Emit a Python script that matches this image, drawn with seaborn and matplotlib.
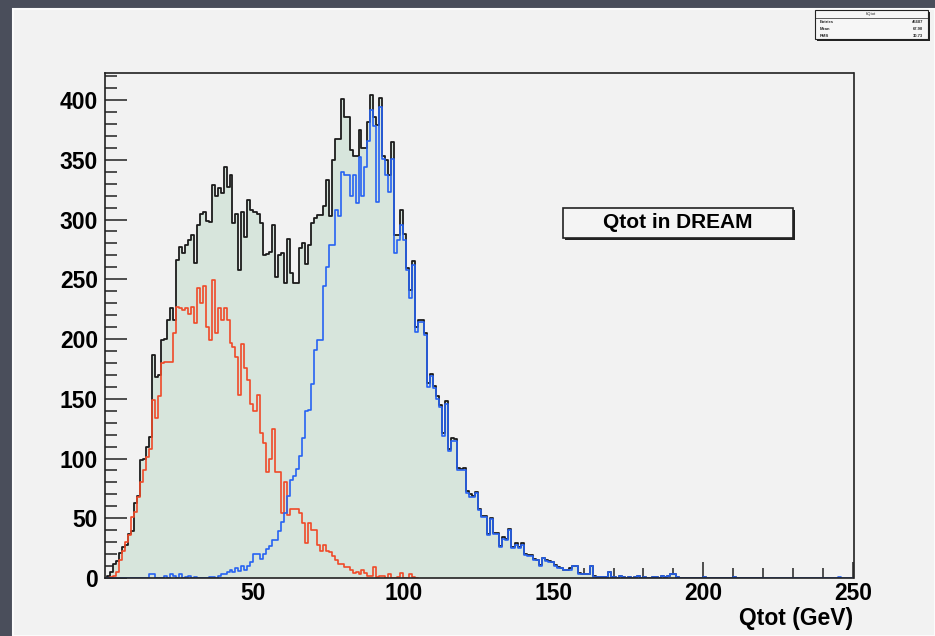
import numpy as np
import pandas as pd
import matplotlib
matplotlib.use('Agg')
import matplotlib.pyplot as plt
from matplotlib.patches import Rectangle
from matplotlib.ticker import MultipleLocator, FixedLocator
import seaborn as sns

# counts per 1 GeV bin, starting at 0 GeV
total_counts = [0, 2, 5, 12, 14, 21, 26, 28, 37, 39,
                63, 69, 99, 100, 110, 118, 187, 168, 170, 199,
                200, 216, 226, 216, 266, 277, 272, 279, 283, 287,
                264, 295, 305, 306, 299, 298, 329, 320, 326, 322,
                344, 327, 337, 297, 305, 258, 306, 285, 316, 308,
                306, 305, 297, 270, 271, 273, 295, 252, 270, 272,
                247, 284, 255, 247, 247, 276, 280, 263, 279, 297,
                301, 304, 304, 311, 333, 303, 350, 367, 367, 401,
                386, 386, 358, 353, 353, 375, 360, 360, 382, 404,
                386, 379, 402, 353, 350, 337, 365, 287, 287, 308,
                288, 259, 241, 265, 210, 216, 216, 205, 163, 171,
                161, 152, 145, 121, 148, 108, 117, 116, 92, 91,
                92, 73, 70, 69, 72, 58, 52, 52, 37, 50,
                38, 38, 27, 34, 33, 41, 26, 29, 26, 29,
                20, 19, 19, 16, 15, 11, 17, 15, 14, 13,
                11, 9, 8, 7, 7, 8, 10, 10, 4, 3,
                3, 3, 10, 2, 1, 1, 1, 1, 5, 1,
                1, 0, 2, 1, 0, 1, 0, 1, 2, 0,
                1, 0, 0, 1, 1, 0, 2, 1, 2, 3,
                3, 1, 0, 0, 0, 0, 0, 0, 0, 0,
                1, 0, 0, 0, 0, 0, 0, 0, 0, 0,
                1, 0, 0, 0, 0, 0, 0, 0, 0, 0]

red_counts = [0, 0, 1, 2, 5, 15, 23, 30, 36, 51,
              55, 68, 80, 90, 101, 108, 149, 134, 152, 180,
              181, 181, 181, 205, 227, 226, 224, 226, 221, 227,
              213, 243, 230, 244, 210, 199, 249, 205, 226, 216,
              226, 216, 197, 193, 185, 153, 196, 176, 166, 146,
              140, 153, 121, 113, 89, 100, 125, 89, 89, 54,
              80, 53, 58, 58, 58, 54, 46, 29, 46, 40,
              40, 28, 23, 28, 23, 22, 18, 15, 12, 12,
              9, 9, 7, 4, 5, 3, 7, 4, 2, 2,
              9, 1, 2, 2, 0, 3, 0, 0, 1, 4,
              0, 0, 3, 1, 0]

blue_counts = [0, 0, 0, 0, 0, 0, 0, 0, 0, 0,
               0, 0, 0, 0, 0, 3, 3, 0, 0, 0,
               2, 0, 3, 2, 0, 3, 0, 1, 2, 0,
               1, 0, 0, 0, 0, 1, 1, 0, 2, 3,
               3, 5, 7, 5, 8, 6, 10, 7, 10, 13,
               20, 20, 16, 20, 24, 27, 32, 32, 39, 47,
               54, 69, 82, 85, 91, 102, 117, 140, 141, 162,
               191, 199, 199, 244, 260, 279, 279, 308, 303, 340,
               337, 337, 320, 337, 314, 352, 320, 344, 366, 392,
               378, 315, 394, 351, 337, 323, 351, 272, 283, 295,
               283, 258, 234, 262, 206, 214, 214, 203, 160, 169,
               159, 150, 143, 119, 146, 106, 115, 115, 90, 90,
               90, 71, 68, 68, 71, 57, 51, 51, 36, 49,
               37, 37, 26, 33, 32, 40, 25, 28, 25, 28,
               19, 18, 18, 15, 15, 10, 17, 14, 13, 13,
               10, 8, 8, 7, 7, 7, 10, 10, 3, 3,
               3, 3, 10, 1, 1, 1, 1, 1, 5, 1,
               1, 0, 2, 1, 0, 1, 0, 1, 2, 0,
               1, 0, 0, 1, 1, 0, 2, 1, 2, 3,
               3, 1, 0, 0, 0, 0, 0, 0, 0, 0,
               1, 0, 0, 0, 0, 0, 0, 0, 0, 0,
               1, 0, 0, 0, 0, 0, 0, 0, 0, 0,
               0, 0, 0, 0, 0, 0, 0, 0, 0, 0,
               0, 0, 0, 0, 0, 0, 0, 0, 0, 0,
               0, 0, 0, 0, 0, 1, 0, 0, 0, 0]

x_major = [50, 100, 150, 200, 250]
stats_rows = [('Entries', '45687'), ('Mean', '67.90'), ('RMS', '30.73')]
title_text = 'Qtot in DREAM'

sns.set_style('ticks')
plt.rcParams['font.family'] = ['Liberation Sans', 'DejaVu Sans']

W, H = 935, 636
fig = plt.figure(figsize=(W/100, H/100), dpi=100, facecolor='#4a4e5b')
# light canvas panel, behind the axes
fig.patches.append(Rectangle((13/W, 0), 1-13/W, 1-9/H, transform=fig.transFigure,
                             facecolor='#f2f2f2', edgecolor='#fbfbfb', lw=1.5, zorder=-5))

ax = fig.add_axes([105/W, 1-578/H, 748.5/W, 505/H])
ax.set_facecolor('#f2f2f2')
ax.set_zorder(1)


def hist(counts, **kw):
    df = pd.DataFrame({'qtot': np.arange(len(counts)) + 0.5, 'n': counts})
    sns.histplot(data=df, x='qtot', weights='n', binwidth=1, binrange=(0, len(counts)),
                 element='step', ax=ax, **kw)


hist(total_counts, fill=True, color='#d7e5dc', alpha=1, linewidth=0)
hist(total_counts, fill=False, color='#1c1c1c', linewidth=1.3)
hist(red_counts, fill=False, color='#f04a28', linewidth=1.2)
hist(blue_counts, fill=False, color='#2763f2', linewidth=1.2)

ax.set_xlim(0.5, 250)
ax.set_ylim(0, 422.6)
ax.xaxis.set_major_locator(FixedLocator(x_major))
ax.xaxis.set_minor_locator(MultipleLocator(10))
ax.yaxis.set_major_locator(MultipleLocator(50))
ax.yaxis.set_minor_locator(MultipleLocator(10))
ax.tick_params(axis='y', which='major', direction='in', length=16, width=1.1, color='#222',
               pad=5, labelcolor='black')
ax.tick_params(axis='y', which='minor', direction='in', length=8.5, width=1.1, color='#222')
ax.tick_params(axis='x', which='major', direction='in', length=11.5, width=1.1, color='#222',
               pad=3, labelcolor='black')
ax.tick_params(axis='x', which='minor', direction='in', length=7, width=1.1, color='#222')
for lab in ax.get_xticklabels() + ax.get_yticklabels():
    lab.set_fontsize(16.5)
    lab.set_fontweight('bold')
for sp in ax.spines.values():
    sp.set_visible(True)
    sp.set_linewidth(1.2)
    sp.set_color('#222')
ax.set_ylabel('')
ax.set_xlabel('Qtot (GeV)', loc='right', fontsize=16.5, fontweight='bold', labelpad=1,
              color='black')

# title box with shadow (drawn in axes so it sits above the histogram area)
ax.add_patch(Rectangle((565/W, 1-240/H), 230/W, 30/H, transform=fig.transFigure,
                       facecolor='#222', edgecolor='none', zorder=5, clip_on=False))
ax.add_patch(Rectangle((563/W, 1-238/H), 230/W, 30/H, transform=fig.transFigure,
                       facecolor='#f4f4f4', edgecolor='#222', lw=1.2, zorder=6, clip_on=False))
ax.text(678/W, 1-223/H, title_text, transform=fig.transFigure, ha='center', va='center',
        fontsize=15, fontweight='bold', color='black', zorder=7)

# stats box
fig.patches.append(Rectangle((817/W, 1-41/H), 113/W, 29/H, transform=fig.transFigure,
                             facecolor='#222', edgecolor='none', zorder=5))
fig.patches.append(Rectangle((815/W, 1-39/H), 113/W, 29/H, transform=fig.transFigure,
                             facecolor='#f6f6f6', edgecolor='#222', lw=0.8, zorder=6))
fig.text(871/W, 1-14.5/H, 'hQtot', ha='center', va='center', fontsize=3, zorder=7)
fig.add_artist(plt.Line2D([815/W, 928/W], [1-18.3/H, 1-18.3/H], color='#222', lw=0.5, zorder=7))
for i, (k, v) in enumerate(stats_rows):
    yy = 1 - (22 + i*6.8)/H
    fig.text(820/W, yy, k, ha='left', va='center', fontsize=3, fontweight='bold', zorder=7)
    fig.text(923/W, yy, v, ha='right', va='center', fontsize=3, fontweight='bold', zorder=7)

fig.savefig('out.png', dpi=100, facecolor=fig.get_facecolor())
